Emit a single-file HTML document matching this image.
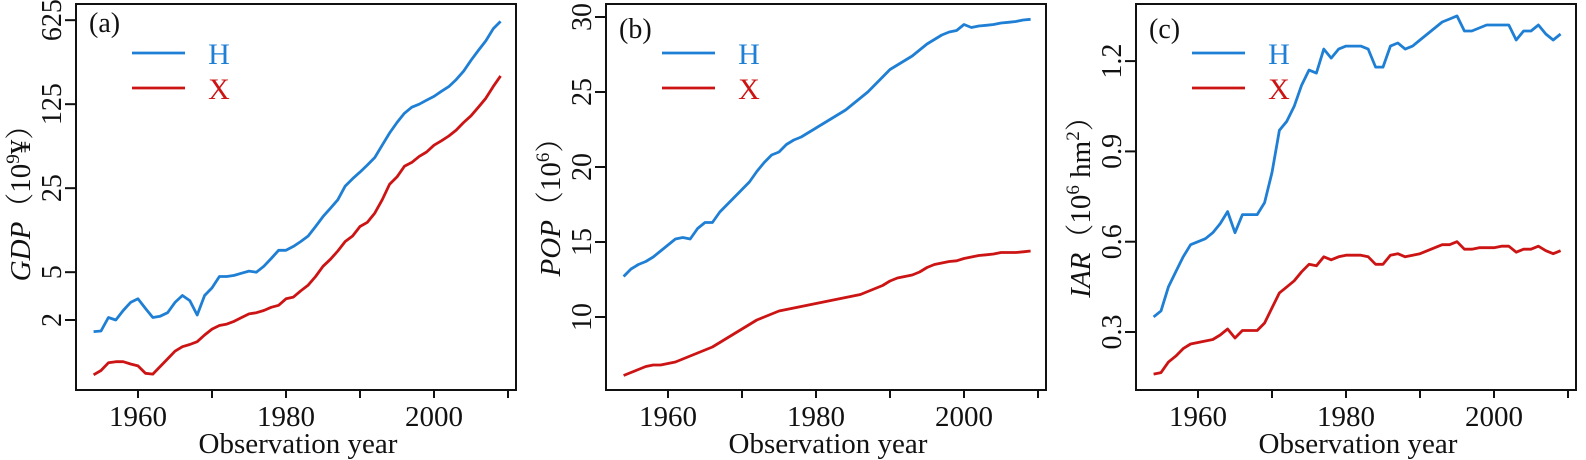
<!DOCTYPE html>
<html><head><meta charset="utf-8">
<style>
html,body{margin:0;padding:0;background:#fff;}
svg{display:block;font-family:"Liberation Serif","Noto Serif CJK SC",serif;}
</style></head>
<body>
<svg id="chart" width="1586" height="460" viewBox="0 0 1586 460" xmlns="http://www.w3.org/2000/svg"></svg>
<script>
const years = [];
for (let y = 1954; y <= 2009; y++) years.push(y);
const gdpH = [1.6,1.62,2.1,2.0,2.4,2.8,3.0,2.5,2.1,2.15,2.3,2.8,3.2,2.9,2.2,3.2,3.7,4.6,4.6,4.7,4.9,5.1,5.0,5.6,6.5,7.6,7.6,8.2,9.0,10,12,14.5,17,20,26,30,34,39,45,57,72,88,105,118,125,135,145,160,175,200,235,290,350,420,530,610];
const gdpX = [0.70,0.76,0.88,0.9,0.9,0.86,0.83,0.72,0.71,0.82,0.95,1.1,1.2,1.25,1.32,1.5,1.68,1.8,1.85,1.95,2.1,2.25,2.3,2.4,2.55,2.65,3.0,3.1,3.5,3.9,4.6,5.6,6.4,7.5,9,10,12,13,15.5,20,27,31,38,41,46,50,57,62,68,76,88,100,118,140,175,215];
const popH = [12.7,13.2,13.5,13.7,14.0,14.4,14.8,15.2,15.3,15.2,15.9,16.3,16.3,17.0,17.5,18.0,18.5,19.0,19.7,20.3,20.8,21.0,21.5,21.8,22.0,22.3,22.6,22.9,23.2,23.5,23.8,24.2,24.6,25.0,25.5,26.0,26.5,26.8,27.1,27.4,27.8,28.2,28.5,28.8,29.0,29.1,29.5,29.3,29.4,29.45,29.5,29.6,29.65,29.7,29.8,29.85];
const popX = [6.1,6.3,6.5,6.7,6.8,6.8,6.9,7.0,7.2,7.4,7.6,7.8,8.0,8.3,8.6,8.9,9.2,9.5,9.8,10.0,10.2,10.4,10.5,10.6,10.7,10.8,10.9,11.0,11.1,11.2,11.3,11.4,11.5,11.7,11.9,12.1,12.4,12.6,12.7,12.8,13.0,13.3,13.5,13.6,13.7,13.75,13.9,14.0,14.1,14.15,14.2,14.3,14.3,14.3,14.35,14.4];
const iarH = [0.35,0.37,0.45,0.50,0.55,0.59,0.60,0.61,0.63,0.66,0.70,0.63,0.69,0.69,0.69,0.73,0.83,0.97,1.00,1.05,1.12,1.17,1.16,1.24,1.21,1.24,1.25,1.25,1.25,1.24,1.18,1.18,1.25,1.26,1.24,1.25,1.27,1.29,1.31,1.33,1.34,1.35,1.30,1.30,1.31,1.32,1.32,1.32,1.32,1.27,1.30,1.30,1.32,1.29,1.27,1.29];
const iarX = [0.16,0.165,0.20,0.22,0.245,0.26,0.265,0.27,0.275,0.29,0.31,0.28,0.305,0.305,0.305,0.33,0.38,0.43,0.45,0.47,0.50,0.525,0.52,0.55,0.54,0.55,0.555,0.555,0.555,0.55,0.525,0.525,0.555,0.56,0.55,0.555,0.56,0.57,0.58,0.59,0.59,0.60,0.575,0.575,0.58,0.58,0.58,0.585,0.585,0.565,0.575,0.575,0.585,0.57,0.56,0.57];
const xTicks = [1960,1970,1980,1990,2000,2010];
const xTickLabels = ["1960","","1980","","2000",""];
const gdpTicks = [2,5,25,125,625];
const gdpTickLabels = ["2","5","25","125","625"];
const popTicks = [10,15,20,25,30];
const popTickLabels = ["10","15","20","25","30"];
const iarTicks = [0.3,0.6,0.9,1.2];
const iarTickLabels = ["0.3","0.6","0.9","1.2"];

const NS = "http://www.w3.org/2000/svg";
const svg = document.getElementById('chart');
function mk(tag, attrs, parent) {
  const e = document.createElementNS(NS, tag);
  for (const k in attrs) e.setAttribute(k, attrs[k]);
  (parent || svg).appendChild(e);
  return e;
}
const BLUE = "#1f7fd4", RED = "#cc1414";

function panel(cfg) {
  const g = mk('g', {});
  
  
  const L = cfg.left, R = cfg.left + 440, T = 4, B = 390;
  const xS = yr => cfg.left + 62 + (yr - 1960) * 7.4;
  const yS = cfg.yScale;
  const box = mk('rect', {x: L, y: T, width: R - L, height: B - T, fill: 'none', stroke: '#111', 'stroke-width': 2}, g);
  
  
  xTicks.forEach((t, i) => {
    const x = xS(t);
    const tk = mk('line', {x1: x, x2: x, y1: B, y2: B + 8, stroke: '#111', 'stroke-width': 2}, g);
    
    
    if (xTickLabels[i]) {
      const tl = mk('text', {x: x, y: 426, 'font-size': 29, 'text-anchor': 'middle', fill: '#111'}, g);
      tl.textContent = xTickLabels[i];
      
      
    }
  });
  const xl = mk('line', {x1: xS(xTicks[0]) , x2: xS(xTicks[xTicks.length-1]), y1: B, y2: B, stroke: '#111', 'stroke-width': 2}, g);
  
  
  const xt = mk('text', {x: L + 222, y: 453, 'font-size': 29, 'text-anchor': 'middle', fill: '#111'}, g);
  xt.textContent = 'Observation year';
  
  
  cfg.ticks.forEach((t, i) => {
    const y = yS(t);
    const tk = mk('line', {x1: L - 11, x2: L, y1: y, y2: y, stroke: '#111', 'stroke-width': 2}, g);
    
    
    const tl = mk('text', {x: 0, y: 0, 'font-size': 28, 'text-anchor': 'middle', fill: '#111', transform: `translate(${L - 15},${y}) rotate(-90)`}, g);
    tl.textContent = cfg.tickLabels[i];
    
    
  });
  const yt = mk('text', {x: 0, y: 0, 'font-size': 29, 'text-anchor': 'middle', fill: '#111', transform: `translate(${L - 46},${cfg.titleY}) rotate(-90)`}, g);
  yt.innerHTML = cfg.titleHTML;
  
  
  [[cfg.h, BLUE, 'series-h-line'], [cfg.x, RED, 'series-x-line']].forEach(([d, c, n]) => {
    const pts = d.map((v, i) => xS(years[i]).toFixed(1) + ',' + yS(v).toFixed(1)).join(' ');
    const pl = mk('polyline', {points: pts, fill: 'none', stroke: c, 'stroke-width': 2.8, 'stroke-linejoin': 'round'}, g);
    
    
  });
  const pl = mk('text', {x: L + 13, y: cfg.labY, 'font-size': 28, fill: '#111'}, g);
  pl.textContent = cfg.label;
  
  
  [['H', BLUE, cfg.legY], ['X', RED, cfg.legY + 35]].forEach(([t, c, y]) => {
    const lg = mk('g', {}, g);
    
    
    mk('line', {x1: L + 56, x2: L + 109, y1: y, y2: y, stroke: c, 'stroke-width': 2.8}, lg);
    const tx = mk('text', {x: L + 143, y: y + 11, 'font-size': 30, 'text-anchor': 'middle', fill: c}, lg);
    tx.textContent = t;
  });
}

panel({name: 'panel-a-gdp', left: 76, label: '(a)', labY: 32, legY: 53, titleY: 196,
  h: gdpH, x: gdpX, ticks: gdpTicks, tickLabels: gdpTickLabels,
  yScale: v => 320 - Math.log(v / 2) / Math.log(5) * 84,
  titleHTML: '<tspan font-style="italic">GDP</tspan>（10<tspan dy="-11" font-size="19">9</tspan><tspan dy="11">¥）</tspan>'});
panel({name: 'panel-b-pop', left: 606, label: '(b)', labY: 38, legY: 53, titleY: 200,
  h: popH, x: popX, ticks: popTicks, tickLabels: popTickLabels,
  yScale: v => 317 - (v - 10) * 15,
  titleHTML: '<tspan font-style="italic">POP</tspan>（10<tspan dy="-11" font-size="19">6</tspan><tspan dy="11">）</tspan>'});
panel({name: 'panel-c-iar', left: 1136, label: '(c)', labY: 38, legY: 53, titleY: 200,
  h: iarH, x: iarX, ticks: iarTicks, tickLabels: iarTickLabels,
  yScale: v => 332 - (v - 0.3) / 0.3 * 90.3,
  titleHTML: '<tspan font-style="italic">IAR</tspan>（10<tspan dy="-11" font-size="19">6</tspan><tspan dy="11"> hm</tspan><tspan dy="-11" font-size="19">2</tspan><tspan dy="11">）</tspan>'});
</script>
</body></html>
